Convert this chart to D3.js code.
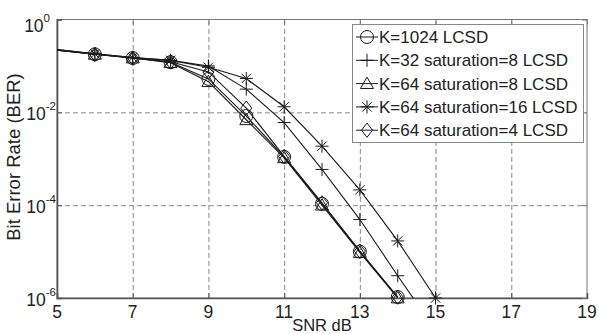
<!DOCTYPE html>
<html>
<head>
<meta charset="utf-8">
<script src="https://cdn.jsdelivr.net/npm/d3@7"></script>
<style>
  body { margin: 0; background: #fff; }
  svg { display: block; font-family: "Liberation Sans", Arial, sans-serif; }
</style>
</head>
<body>
<svg width="599" height="334"></svg>
<script>
// SNR values (dB) and log10(BER)
const snr = [5, 6, 7, 8, 9, 10, 11, 12, 13, 14, 15];
const k1024 = [-0.66, -0.75, -0.83, -0.92, -1.28, -2.08, -2.96, -3.97, -5.0, -5.98];
const k32s8 = [-0.65, -0.74, -0.82, -0.88, -1.0, -1.5, -2.22, -3.23, -4.31, -5.52, -6.7];
const k64s8 = [-0.66, -0.75, -0.83, -0.93, -1.34, -2.16, -2.98, -4.0, -5.02, -6.0];
const k64s16 = [-0.65, -0.74, -0.82, -0.88, -1.03, -1.27, -1.88, -2.73, -3.67, -4.77, -6.0];
const k64s4 = [-0.66, -0.75, -0.83, -0.91, -1.13, -1.91, -2.95, -3.95, -4.99, -5.98];

const legendLabels = [
  "K=1024 LCSD",
  "K=32 saturation=8 LCSD",
  "K=64 saturation=8 LCSD",
  "K=64 saturation=16 LCSD",
  "K=64 saturation=4 LCSD",
];
const xTicks = [5, 7, 9, 11, 13, 15, 17, 19];
const yTickExp = [0, -2, -4, -6];

const series = [
  { name: legendLabels[0], vals: k1024, marker: "circle" },
  { name: legendLabels[1], vals: k32s8, marker: "plus" },
  { name: legendLabels[2], vals: k64s8, marker: "triangle" },
  { name: legendLabels[3], vals: k64s16, marker: "star" },
  { name: legendLabels[4], vals: k64s4, marker: "diamond" },
];

const svg = d3.select("svg");
const pLeft = 57, pRight = 587, pTop = 19.5, pBottom = 298;

const x = d3.scaleLinear().domain([5, 19]).range([pLeft, pRight]);
const y = d3.scaleLog().domain([1e-6, 1]).range([pBottom, pTop]);

svg.append("defs").append("clipPath").attr("id", "plotClip")
  .append("rect")
  .attr("x", pLeft).attr("y", pTop)
  .attr("width", pRight - pLeft).attr("height", pBottom - pTop);

// grid
const grid = svg.append("g").attr("class", "grid");
grid.append("g")
  .attr("transform", `translate(0,${pBottom})`)
  .call(d3.axisBottom(x).tickValues(xTicks.slice(1, -1)).tickSize(-(pBottom - pTop)).tickFormat(""))
  .call((g) => g.select(".domain").remove());
grid.append("g")
  .attr("transform", `translate(${pLeft},0)`)
  .call(d3.axisLeft(y).tickValues(yTickExp.slice(1, -1).map((e) => Math.pow(10, e))).tickSize(-(pRight - pLeft)).tickFormat(""))
  .call((g) => g.select(".domain").remove());
grid.selectAll("line")
  .attr("stroke", "#8a8a8a")
  .attr("stroke-width", 1)
  .attr("stroke-dasharray", "5,3");

// frame
svg.append("rect")
  .attr("x", pLeft).attr("y", pTop)
  .attr("width", pRight - pLeft).attr("height", pBottom - pTop)
  .attr("fill", "none")
  .attr("stroke", "#777")
  .attr("stroke-width", 1);

// inner tick marks
const tickLen = 5;
const xAx = svg.append("g")
  .attr("transform", `translate(0,${pBottom})`)
  .call(d3.axisBottom(x).tickValues(xTicks).tickSize(-tickLen).tickFormat(""));
const xAxTop = svg.append("g")
  .attr("transform", `translate(0,${pTop})`)
  .call(d3.axisTop(x).tickValues(xTicks).tickSize(-tickLen).tickFormat(""));
const yAx = svg.append("g")
  .attr("transform", `translate(${pLeft},0)`)
  .call(d3.axisLeft(y).tickValues(yTickExp.map((e) => Math.pow(10, e))).tickSize(-tickLen).tickFormat(""));
const yAxRight = svg.append("g")
  .attr("transform", `translate(${pRight},0)`)
  .call(d3.axisRight(y).tickValues(yTickExp.map((e) => Math.pow(10, e))).tickSize(-tickLen).tickFormat(""));
[xAxTop, yAxRight].forEach((g) => {
  g.select(".domain").remove();
  g.selectAll("line").attr("stroke", "#777");
});
[xAx, yAx].forEach((g) => {
  g.select(".domain").attr("stroke", "#555").attr("stroke-width", 1.6);
  g.selectAll("line").attr("stroke", "#555");
});

// x tick labels
svg.append("g").selectAll("text")
  .data(xTicks)
  .enter()
  .append("text")
  .attr("x", (d) => x(d))
  .attr("y", 318)
  .attr("text-anchor", "middle")
  .attr("font-size", 17.5)
  .attr("fill", "#222")
  .text((d) => d);

// y tick labels 10^n
const yl = svg.append("g").selectAll("text")
  .data(yTickExp)
  .enter()
  .append("text")
  .attr("x", (d) => (d === 0 ? 50 : 56))
  .attr("y", (d) => y(Math.pow(10, d)) + (d === 0 ? 12 : 8))
  .attr("text-anchor", "end")
  .attr("fill", "#222");
yl.append("tspan").attr("font-size", 17.5).text("10");
yl.append("tspan")
  .attr("font-size", 11.5)
  .attr("dy", -10)
  .text((d) => (d === 0 ? "0" : "-" + Math.abs(d)));

// axis titles
svg.append("text")
  .attr("transform", `translate(20,157) rotate(-90)`)
  .attr("text-anchor", "middle")
  .attr("font-size", 18.5)
  .attr("fill", "#222")
  .text("Bit Error Rate (BER)");
svg.append("text")
  .attr("x", 322)
  .attr("y", 331)
  .attr("text-anchor", "middle")
  .attr("font-size", 16.5)
  .attr("fill", "#222")
  .text("SNR dB");

// markers
function markerPath(type, s) {
  const h = s / 2;
  switch (type) {
    case "circle":
      return `M${-h},0 A${h},${h} 0 1,1 ${h},0 A${h},${h} 0 1,1 ${-h},0 Z`;
    case "plus":
      return `M${-h},0 L${h},0 M0,${-h} L0,${h}`;
    case "triangle":
      return `M0,${-h} L${h},${h * 0.75} L${-h},${h * 0.75} Z`;
    case "diamond":
      return `M0,${-h * 1.1} L${h * 0.85},0 L0,${h * 1.1} L${-h * 0.85},0 Z`;
    case "star": {
      const d = h * 0.72;
      return `M${-h},0 L${h},0 M0,${-h} L0,${h} M${-d},${-d} L${d},${d} M${-d},${d} L${d},${-d}`;
    }
  }
}

const line = d3.line()
  .x((d) => x(d.snr))
  .y((d) => y(Math.pow(10, d.v)));

const plot = svg.append("g");
series.forEach((s) => {
  const pts = s.vals.map((v, i) => ({ snr: snr[i], v: v }));
  plot.append("path")
    .datum(pts)
    .attr("clip-path", "url(#plotClip)")
    .attr("d", line)
    .attr("fill", "none")
    .attr("stroke", "#1a1a1a")
    .attr("stroke-width", 1.1);
  plot.append("g")
    .selectAll("path")
    .data(pts.filter((p) => p.snr > 5 && p.v >= -6.05))
    .enter()
    .append("path")
    .attr("transform", (p) => `translate(${x(p.snr)},${y(Math.pow(10, p.v))})`)
    .attr("d", markerPath(s.marker, 13))
    .attr("fill", "none")
    .attr("stroke", "#1a1a1a")
    .attr("stroke-width", 1);
});

// legend
const lg = svg.append("g");
lg.append("rect")
  .attr("x", 352.5).attr("y", 24.5)
  .attr("width", 231).attr("height", 118)
  .attr("fill", "#fff")
  .attr("stroke", "#888")
  .attr("stroke-width", 1);
const rows = lg.selectAll("g.row")
  .data(series)
  .enter()
  .append("g")
  .attr("class", "row")
  .attr("transform", (d, i) => `translate(0,${37 + i * 23.3})`);
rows.append("line")
  .attr("x1", 356).attr("x2", 378)
  .attr("stroke", "#1a1a1a");
rows.append("path")
  .attr("transform", "translate(367,0)")
  .attr("d", (d) => markerPath(d.marker, 13))
  .attr("fill", "none")
  .attr("stroke", "#1a1a1a");
rows.append("text")
  .attr("x", 379)
  .attr("y", 6)
  .attr("font-size", 17)
  .attr("fill", "#222")
  .text((d) => d.name);
</script>
</body>
</html>
